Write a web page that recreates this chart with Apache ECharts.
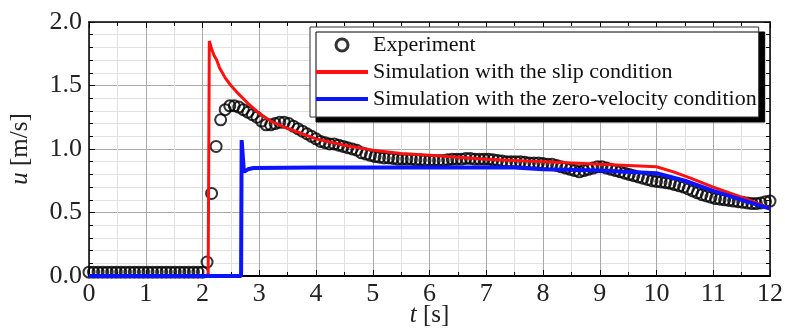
<!DOCTYPE html>
<html>
<head>
<meta charset="utf-8">
<script src="https://cdn.jsdelivr.net/npm/echarts@6/dist/echarts.min.js"></script>
<style>
  html, body { margin: 0; padding: 0; background: #fff; }
  #chart { width: 785px; height: 334px; }
</style>
</head>
<body>
<div id="chart"></div>
<script>
// experiment: one value every 0.08 s from t = 0 to 12 s
const expStep = 0.08
const expU = [
  0.03, 0.03, 0.03, 0.03, 0.03, 0.03, 0.03, 0.03, 0.03, 0.03,
  0.03, 0.03, 0.03, 0.03, 0.03, 0.03, 0.03, 0.03, 0.03, 0.03,
  0.03, 0.03, 0.03, 0.03, 0.03, 0.03,
  0.11, 0.65, 1.02, 1.23, 1.31, 1.34, 1.34, 1.33, 1.31, 1.29,
  1.27, 1.25, 1.22, 1.19, 1.19, 1.20, 1.21, 1.21, 1.20, 1.18,
  1.16, 1.14, 1.12, 1.10, 1.08, 1.06, 1.05, 1.04, 1.04, 1.03,
  1.02, 1.01, 1.00, 0.99, 0.97, 0.96, 0.95, 0.94, 0.935, 0.93,
  0.93, 0.925, 0.92, 0.92, 0.92, 0.92, 0.915, 0.915, 0.91, 0.91,
  0.91, 0.91, 0.91, 0.915, 0.92, 0.92, 0.92, 0.925, 0.925, 0.92,
  0.92, 0.92, 0.92, 0.915, 0.91, 0.905, 0.90, 0.90, 0.90, 0.90,
  0.895, 0.89, 0.89, 0.89, 0.885, 0.88, 0.88, 0.87, 0.86, 0.85,
  0.84, 0.83, 0.82, 0.83, 0.84, 0.85, 0.86, 0.86, 0.85, 0.84,
  0.83, 0.82, 0.81, 0.80, 0.79, 0.78, 0.77, 0.76, 0.75, 0.745,
  0.74, 0.735, 0.73, 0.72, 0.71, 0.70, 0.685, 0.67, 0.655, 0.64,
  0.63, 0.62, 0.61, 0.605, 0.60, 0.595, 0.59, 0.585, 0.58, 0.575,
  0.57, 0.57, 0.575, 0.585, 0.59
]

// simulation with the slip condition
const slipT = [0, 2.10, 2.12, 2.16, 2.20, 2.25, 2.30, 2.40, 2.50, 2.60, 2.80, 3.00, 3.20, 3.40, 3.70, 4.00, 4.50, 5.00, 5.50, 6.00, 6.50, 7.00, 7.50, 8.00, 8.50, 9.00, 9.50, 10.00, 10.30, 10.60, 11.00, 11.50, 12.00]
const slipU = [0, 0, 1.85, 1.79, 1.74, 1.70, 1.64, 1.56, 1.50, 1.45, 1.36, 1.28, 1.22, 1.18, 1.13, 1.08, 1.03, 0.99, 0.965, 0.95, 0.935, 0.92, 0.91, 0.90, 0.89, 0.88, 0.87, 0.86, 0.82, 0.77, 0.70, 0.62, 0.535]

// simulation with the zero-velocity condition
const zeroT = [0, 2.68, 2.69, 2.73, 2.80, 2.90, 4.00, 6.00, 7.50, 8.00, 9.00, 10.00, 10.50, 11.00, 11.50, 12.00]
const zeroU = [0, 0, 1.07, 0.82, 0.84, 0.85, 0.855, 0.855, 0.855, 0.84, 0.83, 0.81, 0.75, 0.67, 0.60, 0.53]

const font = 'Liberation Serif'
const lineIcon = 'path://M0,0 L52,0 L52,4 L0,4 Z'

const expData = expU.map((u, i) => [+(i * expStep).toFixed(2), u])
const slipData = slipT.map((t, i) => [t, slipU[i]])
const zeroData = zeroT.map((t, i) => [t, zeroU[i]])

const chart = echarts.init(document.getElementById('chart'), null, { renderer: 'canvas' })

const tickAxis = {
  axisLine: { show: true, onZero: false, lineStyle: { color: '#000', width: 1.5 } },
  axisTick: { show: true, inside: true, length: 6, lineStyle: { color: '#000', width: 1 } },
  axisLabel: { show: false },
  splitLine: { show: false },
  minorSplitLine: { show: false }
}

const option = {
  animation: false,
  backgroundColor: '#fff',
  grid: { left: 89, right: 15, top: 22, bottom: 58, outerBoundsMode: 'none' },
  legend: {
    orient: 'vertical',
    left: 310,
    top: 27,
    padding: [7, 2, 7, 6],
    itemGap: 5,
    itemWidth: 52,
    itemHeight: 12,
    backgroundColor: '#fff',
    borderColor: '#333',
    borderWidth: 1,
    shadowColor: '#000',
    shadowBlur: 0,
    shadowOffsetX: 6,
    shadowOffsetY: 5,
    textStyle: { fontFamily: font, fontSize: 22, color: '#111' },
    data: [
      { name: 'Experiment', itemStyle: { borderWidth: 3 } },
      { name: 'Simulation with the slip condition', icon: lineIcon },
      { name: 'Simulation with the zero-velocity condition', icon: lineIcon }
    ]
  },
  xAxis: [
    {
      type: 'value',
      min: 0,
      max: 12,
      interval: 1,
      name: '{i|t} [s]',
      nameLocation: 'middle',
      nameGap: 27,
      nameMoveOverlap: false,
      nameTextStyle: {
        fontFamily: font, fontSize: 25, color: '#222',
        rich: { i: { fontFamily: font, fontSize: 25, fontStyle: 'italic', color: '#222' } }
      },
      axisLine: { show: true, onZero: false, lineStyle: { color: '#000', width: 2 } },
      axisTick: { show: true, inside: true, length: 6, lineStyle: { color: '#000' } },
      minorTick: { show: true, splitNumber: 2, length: 4, lineStyle: { color: '#000' } },
      axisLabel: { fontFamily: font, fontSize: 26, color: '#222', margin: 5 },
      splitLine: { show: true, lineStyle: { color: '#a8a8a8', width: 1 } },
      minorSplitLine: { show: true, lineStyle: { color: '#e2e2e2', width: 1 } }
    },
    Object.assign({}, tickAxis, {
      type: 'value', position: 'top', min: 0, max: 12, interval: 1,
      minorTick: { show: true, splitNumber: 2, length: 4, lineStyle: { color: '#000' } }
    })
  ],
  yAxis: [
    {
      type: 'value',
      min: 0,
      max: 2,
      interval: 0.5,
      name: '{i|u} [m/s]',
      nameLocation: 'middle',
      nameGap: 56,
      nameMoveOverlap: false,
      nameTextStyle: {
        fontFamily: font, fontSize: 25, color: '#222',
        rich: { i: { fontFamily: font, fontSize: 25, fontStyle: 'italic', color: '#222' } }
      },
      axisLine: { show: true, onZero: false, lineStyle: { color: '#000', width: 1.5 } },
      axisTick: { show: true, inside: true, length: 6, lineStyle: { color: '#000' } },
      minorTick: { show: true, splitNumber: 5, length: 4, lineStyle: { color: '#000' } },
      axisLabel: { fontFamily: font, fontSize: 26, color: '#222', margin: 7, formatter: v => v.toFixed(1) },
      splitLine: { show: true, lineStyle: { color: '#a8a8a8', width: 1 } },
      minorSplitLine: { show: true, lineStyle: { color: '#e2e2e2', width: 1 } }
    },
    Object.assign({}, tickAxis, {
      type: 'value', position: 'right', min: 0, max: 2, interval: 0.5,
      minorTick: { show: true, splitNumber: 5, length: 4, lineStyle: { color: '#000' } }
    })
  ],
  series: [
    {
      name: 'Experiment',
      type: 'scatter',
      data: expData,
      symbol: 'circle',
      symbolSize: 11,
      itemStyle: { color: 'rgba(255,255,255,0)', borderColor: '#000', borderWidth: 2 },
      z: 2
    },
    {
      name: 'Simulation with the slip condition',
      type: 'line',
      data: slipData,
      symbol: 'none',
      smooth: false,
      lineStyle: { color: '#ff1010', width: 3 },
      itemStyle: { color: '#ff1010' },
      z: 3
    },
    {
      name: 'Simulation with the zero-velocity condition',
      type: 'line',
      data: zeroData,
      symbol: 'none',
      smooth: false,
      lineStyle: { color: '#0a14ff', width: 4 },
      itemStyle: { color: '#0a14ff' },
      z: 4
    }
  ]
}

chart.setOption(option)
</script>
</body>
</html>
